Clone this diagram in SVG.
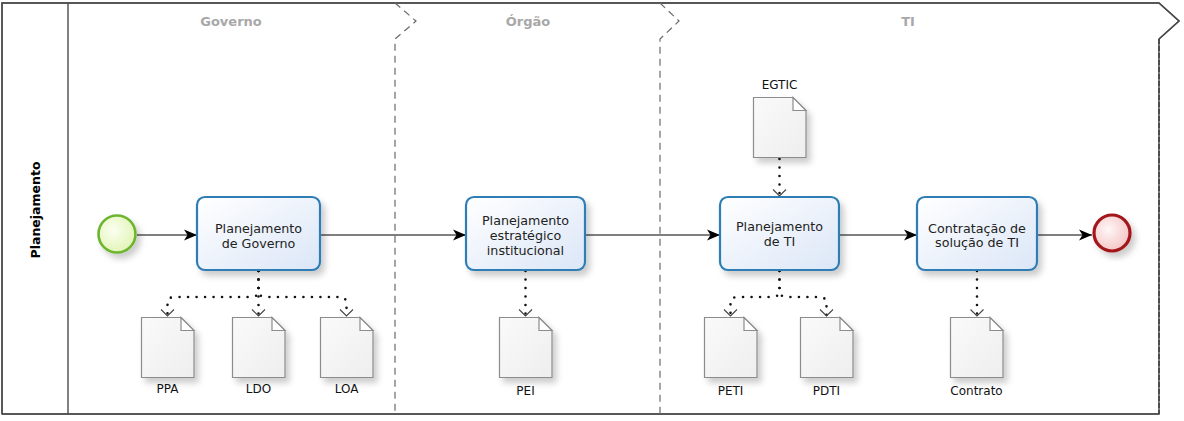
<svg xmlns="http://www.w3.org/2000/svg" xmlns:xlink="http://www.w3.org/1999/xlink" width="1184" height="421" viewBox="0 0 1184 421">
<style>
  .pool{fill:#ffffff;stroke:#5a5a5a;stroke-width:1.6}
  .line{fill:none;stroke:#4a4a4a;stroke-width:1.4}
  .dash{fill:none;stroke:#6a6a6a;stroke-width:1.2;stroke-dasharray:7 5}
  .dashdark{fill:none;stroke:#3a3a3a;stroke-width:1.4;stroke-dasharray:5 2}
  .phase{font-family:"DejaVu Sans",Verdana,sans-serif;font-size:13px;font-weight:bold;fill:#a8a8a8;text-anchor:middle}
  .lane{font-family:"DejaVu Sans",Verdana,sans-serif;font-size:12.5px;font-weight:bold;fill:#000;text-anchor:middle}
  .task{fill:url(#taskGrad);stroke:#2e7db5;stroke-width:2.2;filter:url(#shadow)}
  .ttext{font-family:"DejaVu Sans",Verdana,sans-serif;font-size:12.7px;fill:#222;text-anchor:middle}
  .dlabel{font-family:"DejaVu Sans",Verdana,sans-serif;font-size:12px;fill:#111;text-anchor:middle}
  .flow{fill:none;stroke:#000;stroke-width:1.2;marker-end:url(#arrow)}
  .assoc{fill:none;stroke:#111;stroke-width:2.6;stroke-linecap:round;stroke-dasharray:0 8.5;marker-end:url(#vhead)}
  .doc{fill:url(#docGrad);stroke:#8c8c8c;stroke-width:1.2}
  .fold{fill:#ffffff;stroke:#8c8c8c;stroke-width:1.2}
</style>
<defs>
  <linearGradient id="taskGrad" x1="0" y1="0" x2="1" y2="1">
    <stop offset="0" stop-color="#ffffff"/>
    <stop offset="1" stop-color="#dbe6f7"/>
  </linearGradient>
  <radialGradient id="startGrad" cx="0.4" cy="0.4" r="0.7">
    <stop offset="0" stop-color="#fbfff0"/>
    <stop offset="1" stop-color="#dff3b0"/>
  </radialGradient>
  <radialGradient id="endGrad" cx="0.4" cy="0.4" r="0.7">
    <stop offset="0" stop-color="#fff6f6"/>
    <stop offset="1" stop-color="#f3c0c0"/>
  </radialGradient>
  <linearGradient id="docGrad" x1="0" y1="0" x2="1" y2="1">
    <stop offset="0" stop-color="#fafafa"/>
    <stop offset="1" stop-color="#eeeeee"/>
  </linearGradient>
  <filter id="shadow" x="-20%" y="-20%" width="150%" height="150%">
    <feDropShadow dx="4" dy="5" stdDeviation="3" flood-color="#000" flood-opacity="0.2"/>
  </filter>
  <marker id="arrow" markerUnits="userSpaceOnUse" markerWidth="14" markerHeight="12" viewBox="0 0 14 12" refX="13" refY="6" orient="auto">
    <path d="M0,0.5 L13,6 L0,11.5 L3.5,6 Z" fill="#000"/>
  </marker>
  <marker id="vhead" markerUnits="userSpaceOnUse" markerWidth="10" markerHeight="16" viewBox="-8 -8 10 16" refX="0" refY="0" orient="auto">
    <path d="M-6.5,-6.5 L0,0 L-6.5,6.5" fill="none" stroke="#444" stroke-width="1.1"/>
  </marker>
  <g id="docShape">
    <path class="doc" d="M0.5,0.5 H40 L53,13.5 V60.5 H0.5 Z" filter="url(#shadow)"/>
    <path class="fold" d="M40,0.5 V13.5 H53 Z"/>
  </g>
</defs>

<g id="pool">
  <path class="pool" d="M2,3 H1159 L1179,21 L1159,39 V414 H2 Z" stroke="none"/>
  <path class="line" d="M2,414 V3 H1159 L1179,21 L1159,39"/>
  <path class="line" d="M2,414 H1159"/>
  <path class="dashdark" d="M1159,39 V414"/>
  <line class="line" x1="68" y1="3" x2="68" y2="414"/>
  <text class="lane" transform="translate(40,210) rotate(-90)">Planejamento</text>
</g>

<g id="phases">
  <path class="dash" d="M395,3 L416,21 L395,39 V414"/>
  <path class="dash" d="M660,3 L679,21 L660,39 V414"/>
  <text class="phase" x="231" y="26">Governo</text>
  <text class="phase" x="528" y="26">Órgão</text>
  <text class="phase" x="908" y="26">TI</text>
</g>

<g id="connectors">
  <path class="flow" d="M137,235 H197"/>
  <path class="flow" d="M320,235 H466"/>
  <path class="flow" d="M585,235 H720"/>
  <path class="flow" d="M839,235 H917"/>
  <path class="flow" d="M1037,235 H1092"/>
  <path class="assoc" d="M258.5,271 V290 Q258.5,297 251.5,297 H174.5 Q167.5,297 167.5,304 V316"/>
  <path class="assoc" d="M258.5,271 V316"/>
  <path class="assoc" d="M258.5,271 V290 Q258.5,297 265.5,297 H339.5 Q346.5,297 346.5,304 V316"/>
  <path class="assoc" d="M525.5,271 V316"/>
  <path class="assoc" d="M779.5,159 V196"/>
  <path class="assoc" d="M779.5,271 V290 Q779.5,297 772.5,297 H737.5 Q730.5,297 730.5,304 V316"/>
  <path class="assoc" d="M779.5,271 V290 Q779.5,297 786.5,297 H819.5 Q826.5,297 826.5,304 V316"/>
  <path class="assoc" d="M977,271 V316"/>
</g>

<g id="start">
  <circle cx="117" cy="234" r="18.5" fill="url(#startGrad)" stroke="#6db52f" stroke-width="2.6" filter="url(#shadow)"/>
</g>

<g id="task1">
  <rect class="task" x="197" y="197" width="123" height="73" rx="8"/>
  <text class="ttext" x="258.5" y="233">Planejamento</text>
  <text class="ttext" x="258.5" y="248">de Governo</text>
</g>
<g id="task2">
  <rect class="task" x="466" y="197" width="119" height="73" rx="8"/>
  <text class="ttext" x="525.5" y="225">Planejamento</text>
  <text class="ttext" x="525.5" y="240">estratégico</text>
  <text class="ttext" x="525.5" y="255">institucional</text>
</g>
<g id="task3">
  <rect class="task" x="720" y="197" width="119" height="73" rx="8"/>
  <text class="ttext" x="779.5" y="231">Planejamento</text>
  <text class="ttext" x="779.5" y="246">de TI</text>
</g>
<g id="task4">
  <rect class="task" x="917" y="197" width="120" height="73" rx="8"/>
  <text class="ttext" x="977" y="233">Contratação de</text>
  <text class="ttext" x="977" y="247">solução de TI</text>
</g>

<g id="end">
  <circle cx="1112" cy="233" r="18" fill="url(#endGrad)" stroke="#a3181c" stroke-width="3.2" filter="url(#shadow)"/>
</g>

<g id="docPPA"><use xlink:href="#docShape" transform="translate(141,317)"/><text class="dlabel" x="167.5" y="393">PPA</text></g>
<g id="docLDO"><use xlink:href="#docShape" transform="translate(232,317)"/><text class="dlabel" x="258.5" y="393">LDO</text></g>
<g id="docLOA"><use xlink:href="#docShape" transform="translate(320,317)"/><text class="dlabel" x="346.5" y="393">LOA</text></g>
<g id="docPEI"><use xlink:href="#docShape" transform="translate(499,317)"/><text class="dlabel" x="525.5" y="395">PEI</text></g>
<g id="docEGTIC"><use xlink:href="#docShape" transform="translate(753,97)"/><text class="dlabel" x="779.5" y="89">EGTIC</text></g>
<g id="docPETI"><use xlink:href="#docShape" transform="translate(704,317)"/><text class="dlabel" x="730.5" y="395">PETI</text></g>
<g id="docPDTI"><use xlink:href="#docShape" transform="translate(800,317)"/><text class="dlabel" x="826.5" y="395">PDTI</text></g>
<g id="docContrato"><use xlink:href="#docShape" transform="translate(950,317)"/><text class="dlabel" x="976.5" y="395">Contrato</text></g>
</svg>
